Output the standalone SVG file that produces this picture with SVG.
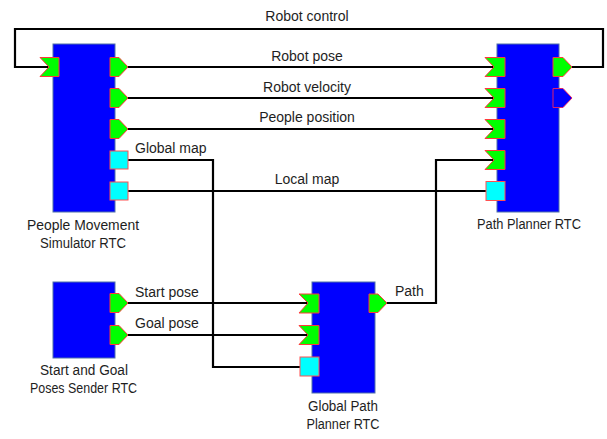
<svg xmlns="http://www.w3.org/2000/svg" width="607" height="439" viewBox="0 0 607 439">
<defs>
<style>
.blk{fill:#0000ff;stroke:#5070a8;stroke-width:1}
.pout{fill:#00ff00;stroke:#ff3a3a;stroke-width:1}
.pin{fill:#00ff00;stroke:#ff3a3a;stroke-width:1}
.pdat{fill:#00ffff;stroke:#ff5050;stroke-width:1}
.pblue{fill:#0000ff;stroke:#e0206a;stroke-width:1}
.wire{fill:none;stroke:#000;stroke-width:2.2;stroke-linejoin:miter}
text{font-family:"Liberation Sans",Arial,sans-serif;font-size:14px;fill:#1e1e1e}
.c{text-anchor:middle}
</style>
</defs>
<rect width="607" height="439" fill="#fff"/>
<g id="connectors">
<polyline class="wire" points="572,67 603,67 603,29 15,29 15,67 49,67"/>
<line class="wire" x1="128" y1="67" x2="494" y2="67"/>
<line class="wire" x1="128" y1="98" x2="494" y2="98"/>
<line class="wire" x1="128" y1="129" x2="494" y2="129"/>
<polyline class="wire" points="128,160 213,160 213,367 300,367"/>
<line class="wire" x1="128" y1="191" x2="486" y2="191"/>
<line class="wire" x1="128" y1="303" x2="308" y2="303"/>
<line class="wire" x1="128" y1="335" x2="308" y2="335"/>
<polyline class="wire" points="387,303 436,303 436,160 494,160"/>
<text x="307" y="21" class="c">Robot control</text>
<text x="307" y="61" class="c">Robot pose</text>
<text x="307" y="92" class="c">Robot velocity</text>
<text x="307" y="122" class="c">People position</text>
<text x="135" y="153">Global map</text>
<text x="307" y="184" class="c">Local map</text>
<text x="135" y="297">Start pose</text>
<text x="135" y="328">Goal pose</text>
<text x="395" y="296">Path</text>
</g>
<g id="people-movement-simulator">
<rect class="blk" x="53" y="44" width="62" height="168"/>
<polygon class="pin" points="40,57.5 59,57.5 59,76.5 40,76.5 49,67"/>
<polygon class="pout" points="110,57.5 119,57.5 128,67 119,76.5 110,76.5"/>
<polygon class="pout" points="110,88.5 119,88.5 128,98 119,107.5 110,107.5"/>
<polygon class="pout" points="110,119.5 119,119.5 128,129 119,138.5 110,138.5"/>
<rect class="pdat" x="110" y="151" width="18" height="18"/>
<rect class="pdat" x="110" y="182" width="18" height="18"/>
<text x="83" y="230" class="c" textLength="112" lengthAdjust="spacingAndGlyphs">People Movement</text>
<text x="83" y="248" class="c" textLength="86" lengthAdjust="spacingAndGlyphs">Simulator RTC</text>
</g>
<g id="path-planner">
<rect class="blk" x="497" y="44" width="62" height="168"/>
<polygon class="pin" points="485,57.5 505,57.5 505,76.5 485,76.5 494,67"/>
<polygon class="pin" points="485,88.5 505,88.5 505,107.5 485,107.5 494,98"/>
<polygon class="pin" points="485,119.5 505,119.5 505,138.5 485,138.5 494,129"/>
<polygon class="pin" points="485,150.5 505,150.5 505,169.5 485,169.5 494,160"/>
<rect class="pdat" x="486" y="181.5" width="19" height="19"/>
<polygon class="pout" points="553,57.5 563,57.5 572,67 563,76.5 553,76.5"/>
<polygon class="pblue" points="553,88.5 563,88.5 572,98 563,107.5 553,107.5"/>
<text x="529" y="229" class="c" textLength="104" lengthAdjust="spacingAndGlyphs">Path Planner RTC</text>
</g>
<g id="start-goal-sender">
<rect class="blk" x="53" y="282" width="62" height="76"/>
<polygon class="pout" points="110,293.5 119,293.5 128,303 119,312.5 110,312.5"/>
<polygon class="pout" points="110,325.5 119,325.5 128,335 119,344.5 110,344.5"/>
<text x="84" y="375" class="c" textLength="88" lengthAdjust="spacingAndGlyphs">Start and Goal</text>
<text x="83.5" y="393" class="c" textLength="107" lengthAdjust="spacingAndGlyphs">Poses Sender RTC</text>
</g>
<g id="global-path-planner">
<rect class="blk" x="312" y="282" width="63" height="111"/>
<polygon class="pin" points="299,294 319,294 319,313 299,313 308,303"/>
<polygon class="pin" points="299,325.5 319,325.5 319,344.5 299,344.5 308,335"/>
<rect class="pdat" x="300" y="357" width="19" height="19"/>
<polygon class="pout" points="369,294 378,294 387,303 378,312.5 369,312.5"/>
<text x="343" y="411" class="c" textLength="70" lengthAdjust="spacingAndGlyphs">Global Path</text>
<text x="343" y="429" class="c" textLength="73" lengthAdjust="spacingAndGlyphs">Planner RTC</text>
</g>
</svg>
